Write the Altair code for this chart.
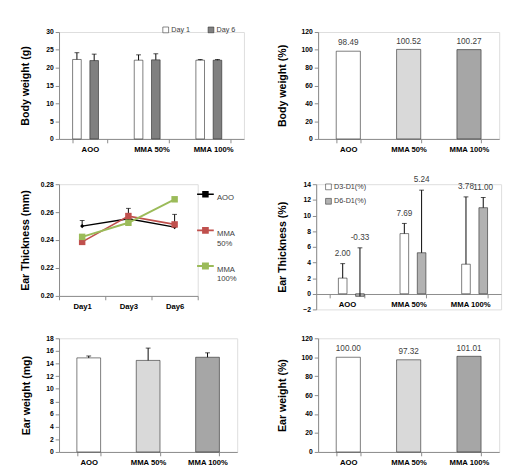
import altair as alt
import pandas as pd

# ---------------- data ----------------
groups = ["AOO", "MMA 50%", "MMA 100%"]

bw_series = ["Day 1", "Day 6"]
bw_day1 = [22.3, 22.1, 22.1]
bw_day1_err = [1.9, 1.5, 0.2]
bw_day6 = [22.0, 22.2, 22.1]
bw_day6_err = [1.8, 1.7, 0.2]

bw_pct = [98.49, 100.52, 100.27]

days = ["Day1", "Day3", "Day6"]
et_series = ["AOO", "MMA 50%", "MMA 100%"]
et_aoo = [0.250, 0.2553, 0.2493]
et_aoo_err = [0.004, 0.0074, 0.0091]
et_mma50 = [0.2387, 0.2572, 0.2512]
et_mma100 = [0.2423, 0.2524, 0.2692]

etp_series = ["D3-D1(%)", "D6-D1(%)"]
etp_d3 = [2.00, 7.69, 3.78]
etp_d3_err = [1.85, 1.3, 8.6]
etp_d6 = [-0.33, 5.24, 11.00]
etp_d6_err = [6.2, 8.0, 1.3]

ew = [14.9, 14.5, 15.0]
ew_err = [0.3, 1.95, 0.7]

ew_pct = [100.00, 97.32, 101.01]

single_colors = ["#ffffff", "#d9d9d9", "#a6a6a6"]

FONT = "Liberation Sans"
DARK = "#1a1a1a"
VAL = "#404040"


def xaxis(offset=0):
    return alt.Axis(title=None, labelAngle=0, tickBand="extent", tickSize=4,
                    labelFontSize=8, labelFontWeight="bold", labelPadding=3,
                    offset=offset, labelOverlap=False)


def yaxis(title, values, fmt, ext=22, tp=8):
    return alt.Axis(title=title, values=values, format=fmt, grid=False,
                    minExtent=ext, maxExtent=ext, titlePadding=tp, tickSize=4,
                    labelFontSize=7, labelFontWeight="bold", labelPadding=2,
                    labelOverlap=False, labelFlush=False)


def grouped(values_a, err_a, values_b, err_b, series, colors, title, domain,
            ticks, fmt, w, h, legend, with_labels=False, x_offset=0):
    df = pd.DataFrame({
        "group": groups * 2,
        "series": [series[0]] * 3 + [series[1]] * 3,
        "value": values_a + values_b,
        "err": err_a + err_b,
    })
    df["top"] = df["value"] + df["err"]
    df["label"] = [f"{v:.2f}" for v in df["value"]]
    base = alt.Chart(df).encode(
        x=alt.X("group:N", sort=groups,
                scale=alt.Scale(paddingInner=0.44, paddingOuter=0.22),
                axis=xaxis(x_offset)),
        xOffset=alt.XOffset("series:N", sort=series,
                            scale=alt.Scale(paddingInner=0, paddingOuter=0)),
    )
    ysc = alt.Scale(domain=domain, nice=False, zero=False)
    yax = yaxis(title, ticks, fmt)
    bars = base.mark_bar(stroke="#222222", strokeWidth=0.6).encode(
        y=alt.Y("value:Q", scale=ysc, title=title, axis=yax),
        fill=alt.Fill("series:N", sort=series,
                      scale=alt.Scale(domain=series, range=colors),
                      legend=legend),
    )
    rules = base.mark_rule(color="#000000", strokeWidth=1).encode(
        y=alt.Y("value:Q", title=title, axis=yax), y2="top:Q")
    caps = base.mark_tick(color="#000000", size=5, thickness=1,
                          orient="horizontal").encode(
        y=alt.Y("top:Q", title=title, axis=yax))
    layers = [bars, rules, caps]
    if with_labels:
        labels = base.mark_text(dy=-11, fontSize=8.5, color=VAL,
                                font=FONT).encode(
            y=alt.Y("top:Q", title=title, axis=yax),
            text="label:N")
        layers.append(labels)
    return alt.layer(*layers).properties(width=w, height=h)


def single(values, errs, title, domain, ticks, w, h, labels, ext=24):
    df = pd.DataFrame({"group": groups, "value": values})
    df["top"] = [v + e for v, e in zip(values, errs)]
    base = alt.Chart(df).encode(
        x=alt.X("group:N", sort=groups,
                scale=alt.Scale(paddingInner=0.6, paddingOuter=0.3),
                axis=xaxis()))
    ysc = alt.Scale(domain=domain, nice=False)
    yax = yaxis(title, ticks, "d", ext=ext)
    bars = base.mark_bar(stroke="#222222", strokeWidth=0.6).encode(
        y=alt.Y("value:Q", scale=ysc, title=title, axis=yax),
        fill=alt.Fill("group:N", sort=groups,
                      scale=alt.Scale(domain=groups, range=single_colors),
                      legend=None),
    )
    layers = [bars]
    if any(e > 0 for e in errs):
        layers.append(base.mark_rule(color="#000000", strokeWidth=1).encode(
            y=alt.Y("value:Q", title=title, axis=yax), y2="top:Q"))
        layers.append(base.mark_tick(color="#000000", size=5, thickness=1,
                                     orient="horizontal").encode(
            y=alt.Y("top:Q", title=title, axis=yax)))
    if labels:
        layers.append(base.mark_text(dy=-9, fontSize=8.5, color=VAL,
                                     font=FONT).encode(
            y=alt.Y("value:Q", title=title, axis=yax),
            text=alt.Text("value:Q", format=".2f")))
    return alt.layer(*layers).properties(width=w, height=h)


# ---------------- panel 1 ----------------
p1 = grouped(bw_day1, bw_day1_err, bw_day6, bw_day6_err, bw_series,
             ["#ffffff", "#808080"], "Body weight (g)", [0, 30],
             [0, 5, 10, 15, 20, 25, 30], "d", 192, 111,
             alt.Legend(title=None, orient="none", legendX=107, legendY=-6,
                        direction="horizontal", symbolType="square",
                        symbolSize=36, symbolStrokeColor="#333333",
                        symbolStrokeWidth=0.6, labelFontSize=7.5,
                        labelColor=VAL, columnPadding=16, labelOffset=2))

# ---------------- panel 2 ----------------
p2 = single(bw_pct, [0, 0, 0], "Body weight (%)", [0, 120],
            [0, 20, 40, 60, 80, 100, 120], 188, 111, True)

# ---------------- panel 3 ----------------
rows = []
for s, vals in zip(et_series, [et_aoo, et_mma50, et_mma100]):
    for d, v in zip(days, vals):
        rows.append({"day": d, "series": s, "value": v})
df3 = pd.DataFrame(rows)
df3e = pd.DataFrame({"day": days, "value": et_aoo,
                     "top": [v + e for v, e in zip(et_aoo, et_aoo_err)]})
line_colors = ["#000000", "#c0504d", "#9bbb59"]
x3 = alt.X("day:N", sort=days, scale=alt.Scale(paddingInner=0, paddingOuter=0),
           axis=xaxis())
y3sc = alt.Scale(domain=[0.20, 0.28], nice=False, zero=False)
t3 = "Ear Thickness (mm)"
y3ax = yaxis(t3, [0.20, 0.22, 0.24, 0.26, 0.28], ".2f")
col3 = alt.Scale(domain=et_series, range=line_colors)
lines3 = alt.Chart(df3).mark_line().encode(
    x=x3,
    y=alt.Y("value:Q", scale=y3sc, title=t3, axis=y3ax),
    color=alt.Color("series:N", sort=et_series, scale=col3,
                    legend=alt.Legend(
                        title=None, orient="none", legendX=142, legendY=1,
                        symbolType="M-1,0H1M-0.3,-0.3H0.3V0.3H-0.3Z",
                        symbolSize=300, symbolStrokeWidth=2,
                        labelFontSize=8, labelColor=VAL,
                        labelExpr="datum.label == 'AOO' ? ['AOO', ' '] : split(datum.label, ' ')",
                        labelBaseline="top", rowPadding=9,
                        labelOffset=2)),
    strokeWidth=alt.StrokeWidth("series:N", sort=et_series,
                                scale=alt.Scale(domain=et_series,
                                                range=[1.5, 2, 2]),
                                legend=None),
)
err3 = alt.Chart(df3e).mark_rule(color="#000000", strokeWidth=1).encode(
    x=x3, y=alt.Y("value:Q", title=t3, axis=y3ax), y2="top:Q")
cap3 = alt.Chart(df3e).mark_tick(color="#000000", size=5, thickness=1,
                                 orient="horizontal").encode(
    x=x3, y=alt.Y("top:Q", title=t3, axis=y3ax))
pts_aoo = alt.Chart(df3).transform_filter(
    alt.datum.series == "AOO"
).mark_point(filled=True, opacity=1, shape="diamond", size=18).encode(
    x=x3, y=alt.Y("value:Q", title=t3, axis=y3ax),
    color=alt.Color("series:N", sort=et_series, scale=col3, legend=None))
pts_mma = alt.Chart(df3).transform_filter(
    alt.datum.series != "AOO"
).mark_point(filled=True, opacity=1, shape="square", size=45).encode(
    x=x3, y=alt.Y("value:Q", title=t3, axis=y3ax),
    color=alt.Color("series:N", sort=et_series, scale=col3, legend=None))
p3 = alt.layer(lines3, err3, cap3, pts_aoo, pts_mma).properties(
    width=144, height=116)

# ---------------- panel 4 ----------------
p4 = grouped(etp_d3, etp_d3_err, etp_d6, etp_d6_err, etp_series,
             ["#ffffff", "#b2b2b2"], "Ear Thickness (%)", [-2, 14],
             [-2, 0, 2, 4, 6, 8, 10, 12, 14], "d", 192, 130,
             alt.Legend(title=None, orient="none", legendX=9, legendY=-1,
                        direction="vertical", symbolType="square",
                        symbolSize=36, symbolStrokeColor="#333333",
                        symbolStrokeWidth=0.6, labelFontSize=7.5,
                        labelColor=VAL, rowPadding=6, labelOffset=2),
             with_labels=True, x_offset=-16)

# ---------------- panel 5 ----------------
p5 = single(ew, ew_err, "Ear weight (mg)", [0, 18],
            [0, 2, 4, 6, 8, 10, 12, 14, 16, 18], 185, 118, False, ext=21)

# ---------------- panel 6 ----------------
p6 = single(ew_pct, [0, 0, 0], "Ear weight (%)", [0, 120],
            [0, 20, 40, 60, 80, 100, 120], 188, 118, True)

ind = dict(fill="independent", color="independent",
           strokeWidth="independent")
row1 = alt.hconcat(p1, p2, spacing=32).resolve_scale(**ind)
row2 = alt.hconcat(p3, p4, spacing=39).resolve_scale(**ind)
row3 = alt.hconcat(p5, p6, spacing=39).resolve_scale(**ind)

chart = alt.vconcat(row1, row2, row3, spacing=21).properties(
    padding={"left": 11, "top": 9, "right": 2, "bottom": 0}
).resolve_scale(**ind).configure_view(
    stroke=None
).configure_axis(
    labelFont=FONT, titleFont=FONT, labelColor=DARK, titleColor=DARK,
    domainColor="#444444", tickColor="#444444", titleFontSize=7.5,
    titleFontWeight="bold", domainWidth=1
).configure_legend(
    labelFont=FONT
).configure(background="white")

chart.save("out.html", embed_options={"renderer": "svg", "actions": False})
